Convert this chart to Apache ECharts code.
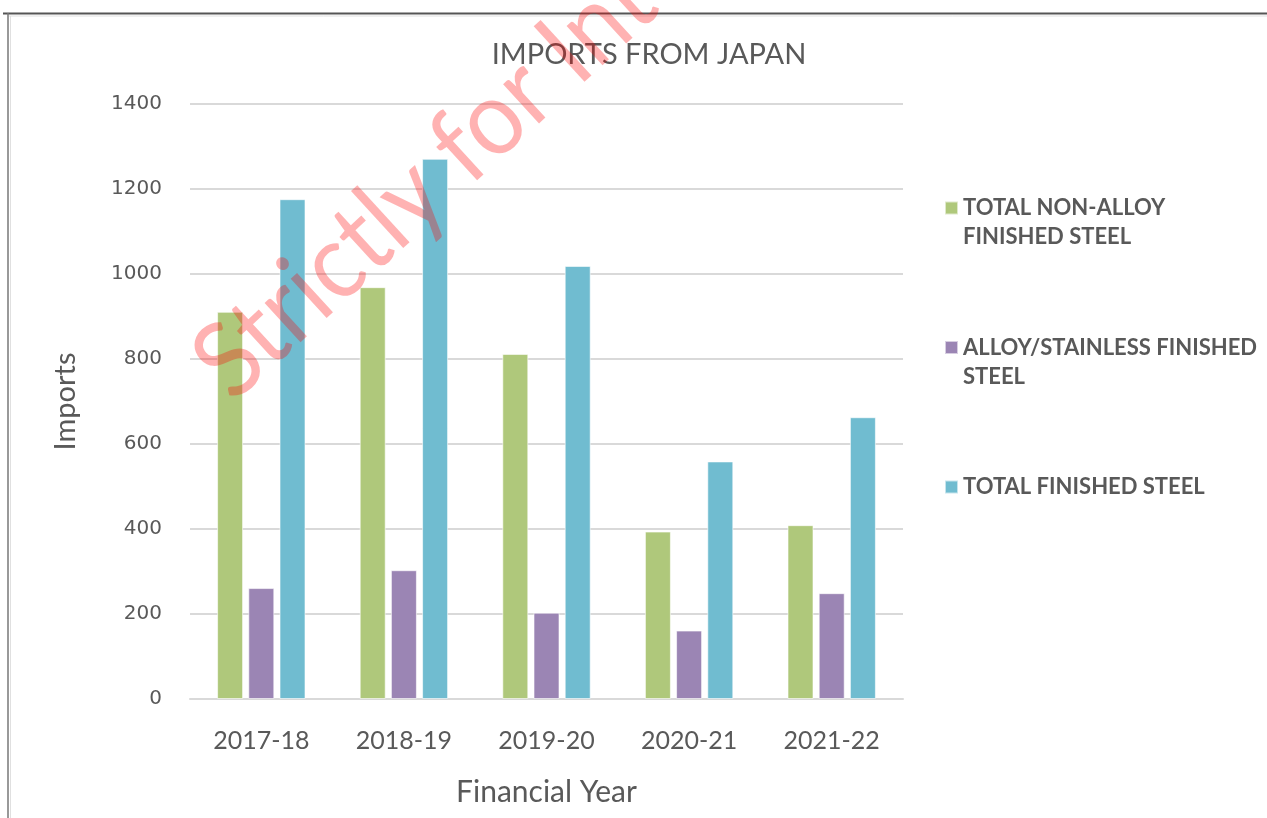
<!DOCTYPE html>
<html>
<head>
<meta charset="utf-8">
<title>Imports from Japan</title>
<script src="https://cdn.jsdelivr.net/npm/echarts@6/dist/echarts.min.js"></script>
<style>
  html, body { margin: 0; padding: 0; background: #fff; }
  #chart { width: 1267px; height: 818px; }
</style>
</head>
<body>
<div id="chart"></div>
<script>
// data
const years = ['2017-18', '2018-19', '2019-20', '2020-21', '2021-22'];
const nonAlloy = [911, 969, 812, 394, 409];
const alloyStainless = [261, 303, 203, 161, 249];
const totalFinished = [1176, 1271, 1019, 559, 663];
const seriesNames = ['TOTAL NON-ALLOY FINISHED STEEL', 'ALLOY/STAINLESS FINISHED STEEL', 'TOTAL FINISHED STEEL'];
const legendLabels = ['TOTAL NON-ALLOY\nFINISHED STEEL', 'ALLOY/STAINLESS FINISHED\nSTEEL', 'TOTAL FINISHED STEEL\n '];
const yMin = 0, yMax = 1400, yStep = 200;

const colors = ['#afc87b', '#9b85b4', '#70bcd0'];
const txt = '#595959';
const font = 'Lato';

// square sitting on the first text line (path bounds 13 x 42, square at top)
const legendIcon = 'path://M0,0H13V13H0Z M0,42L0,42';

const chart = echarts.init(document.getElementById('chart'));

function bar(name, data, color) {
  return {
    name: name,
    type: 'bar',
    data: data,
    barWidth: 26,
    barGap: '20%',
    itemStyle: { color: color, borderColor: 'rgba(255,255,255,0.6)', borderWidth: 1 }
  };
}

chart.setOption({
  animation: false,
  backgroundColor: '#fff',
  title: {
    text: 'IMPORTS FROM JAPAN',
    left: 644,
    top: 35,
    textAlign: 'center',
    textStyle: { color: txt, fontFamily: font, fontSize: 29, fontWeight: 'normal' }
  },
  legend: {
    orient: 'vertical',
    left: 944,
    top: 193.5,
    padding: 0,
    itemWidth: 13,
    itemHeight: 42,
    itemGap: 81.5,
    itemTextGap: 6,
    icon: legendIcon,
    selectedMode: false,
    data: seriesNames,
    formatter: (name) => legendLabels[seriesNames.indexOf(name)],
    textStyle: { color: txt, fontFamily: font, fontSize: 22, fontWeight: 'bold', lineHeight: 29 }
  },
  grid: { left: 190, right: 364, top: 104, height: 595, containLabel: false },
  xAxis: {
    type: 'category',
    data: years,
    name: 'Financial Year',
    nameLocation: 'middle',
    nameGap: 78,
    nameTextStyle: { color: txt, fontFamily: font, fontSize: 30 },
    axisLine: { lineStyle: { color: '#d9d9d9', width: 2 } },
    axisTick: { show: false },
    axisLabel: { color: txt, fontFamily: font, fontSize: 25, margin: 29 }
  },
  yAxis: {
    type: 'value',
    min: yMin,
    max: yMax,
    interval: yStep,
    name: 'Imports',
    nameLocation: 'middle',
    nameRotate: 90,
    nameGap: 110,
    nameTextStyle: { color: txt, fontFamily: font, fontSize: 29 },
    axisLine: { show: false },
    axisTick: { show: false },
    axisLabel: { color: txt, fontFamily: 'DejaVu Sans', fontSize: 20, margin: 28, formatter: (v) => String(v) },
    splitLine: { lineStyle: { color: '#d9d9d9', width: 2 } }
  },
  series: [
    bar(seriesNames[0], nonAlloy, colors[0]),
    bar(seriesNames[1], alloyStainless, colors[1]),
    bar(seriesNames[2], totalFinished, colors[2])
  ],
  graphic: [
    // frame of the screenshot
    { type: 'line', silent: true, shape: { x1: 3, y1: 13.5, x2: 1267, y2: 13.5 }, style: { stroke: '#555', lineWidth: 2 } },
    { type: 'line', silent: true, shape: { x1: 9, y1: 16, x2: 1267, y2: 16 }, style: { stroke: '#e0e0e0', lineWidth: 1 } },
    { type: 'line', silent: true, shape: { x1: 8, y1: 13, x2: 8, y2: 818 }, style: { stroke: '#777', lineWidth: 1.5 } },
    { type: 'line', silent: true, shape: { x1: 10.5, y1: 16, x2: 10.5, y2: 818 }, style: { stroke: '#e0e0e0', lineWidth: 1 } },
    // watermark
    {
      type: 'text',
      silent: true,
      z: 100,
      x: 210,
      y: 379,
      rotation: 42.5 * Math.PI / 180,
      scaleX: 0.92,
      style: {
        text: 'Strictly for Internal Use',
        font: '105px Lato',
        fill: 'rgba(255,0,0,0.3)',
        align: 'left',
        verticalAlign: 'middle'
      }
    }
  ]
});
</script>
</body>
</html>
